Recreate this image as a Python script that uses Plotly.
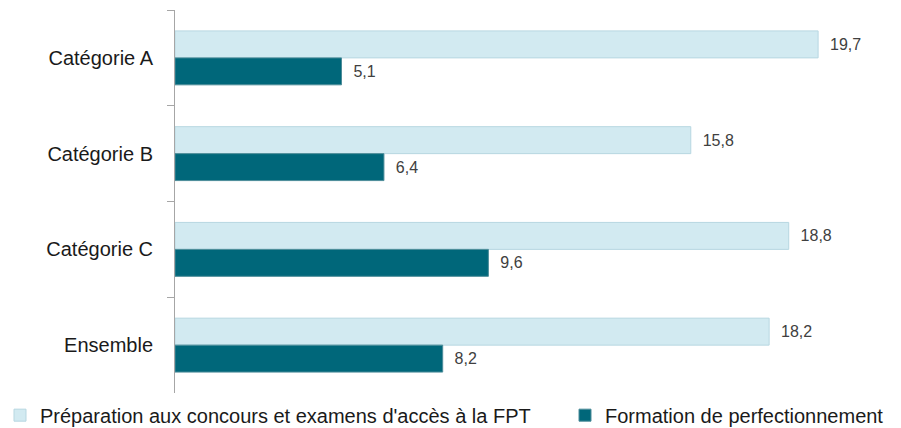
import plotly.graph_objects as go

# Categories (top to bottom) and the two training types
categories = ["Catégorie A", "Catégorie B", "Catégorie C", "Ensemble"]
series_names = [
    "Préparation aux concours et examens d'accès à la FPT",
    "Formation de perfectionnement",
]
preparation = [19.7, 15.8, 18.8, 18.2]
perfectionnement = [5.1, 6.4, 9.6, 8.2]

LIGHT = "#D2EAF1"
LIGHT_EDGE = "#B7D7E1"
DARK = "#00677A"
DARK_EDGE = "#4C8C99"
FONT = "Liberation Sans, Arial, sans-serif"

fig = go.Figure()
for name, values, fill, edge, legend_id in [
    (series_names[0], preparation, LIGHT, LIGHT_EDGE, "legend"),
    (series_names[1], perfectionnement, DARK, DARK_EDGE, "legend2"),
]:
    fig.add_trace(go.Bar(
        y=categories,
        x=values,
        name=name,
        orientation="h",
        legend=legend_id,
        marker=dict(color=fill, line=dict(color=edge, width=1)),
        texttemplate="\u00a0\u00a0%{x:.1f}",
        textposition="outside",
        textfont=dict(family=FONT, size=16, color="#404040"),
        cliponaxis=False,
        hoverinfo="skip",
    ))

legend_style = dict(
    orientation="h",
    xref="container",
    yref="container",
    yanchor="middle",
    xanchor="left",
    y=0.03,
    font=dict(family=FONT, size=20, color="#1A1A1A"),
    bgcolor="rgba(0,0,0,0)",
)

fig.update_layout(
    width=901,
    height=428,
    margin=dict(l=175, r=15, t=10, b=35, autoexpand=False),
    paper_bgcolor="white",
    plot_bgcolor="white",
    separators=", ",
    barmode="group",
    bargap=0.437,
    bargroupgap=0,
    font=dict(family=FONT, color="#1A1A1A"),
    showlegend=True,
    legend=dict(x=0.0, **legend_style),
    legend2=dict(x=565 / 901, **legend_style),
    xaxis=dict(
        range=[0, 21.78],
        visible=False,
        showgrid=False,
        zeroline=False,
    ),
    yaxis=dict(
        autorange="reversed",
        tickson="boundaries",
        ticks="outside",
        ticklen=7,
        tickcolor="#A6A6A6",
        showline=True,
        linecolor="#A6A6A6",
        linewidth=1,
        showgrid=False,
        tickfont=dict(family=FONT, size=20, color="#1A1A1A"),
        ticklabelstandoff=17,
    ),
)

fig.write_html("out.html")
